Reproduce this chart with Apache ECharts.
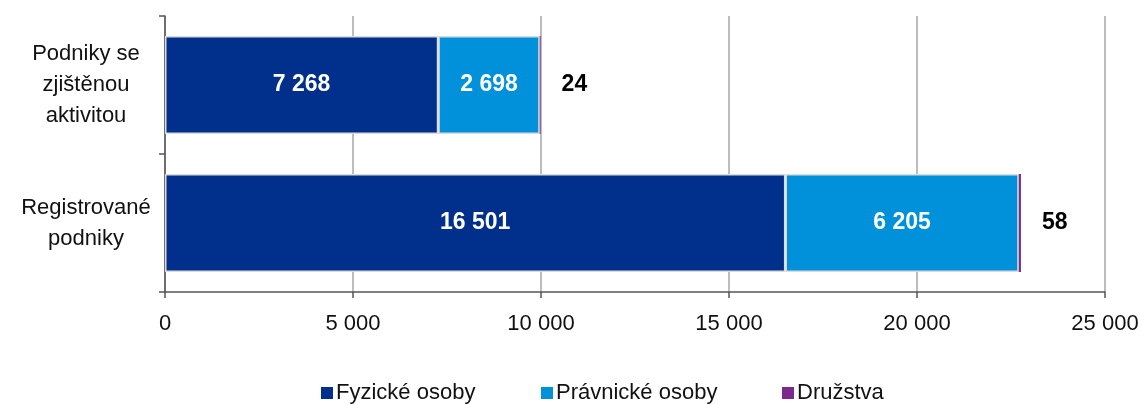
<!DOCTYPE html>
<html>
<head>
<meta charset="utf-8">
<script src="https://cdn.jsdelivr.net/npm/echarts@6/dist/echarts.min.js"></script>
<style>
  html, body { margin: 0; padding: 0; background: #fff; }
  #chart { width: 1144px; height: 404px; }
</style>
</head>
<body>
<div id="chart"></div>
<script>
// Categories, top to bottom
const categories = ['Podniky se\nzjištěnou\naktivitou', 'Registrované\npodniky'];
// Series values (same order as categories)
const fyzickeOsoby = [7268, 16501];
const pravnickeOsoby = [2698, 6205];
const druzstva = [24, 58];
const seriesNames = ['Fyzické osoby', 'Právnické osoby', 'Družstva'];
const xTicks = { min: 0, max: 25000, interval: 5000 };

const colors = ['#00308C', '#0091DA', '#7B2A8B'];
const sans = '"Liberation Sans", Arial, sans-serif';
const narrow = '"Liberation Sans Narrow", "Liberation Sans", Arial, sans-serif';

function fmt(v) {
  return String(v).replace(/\B(?=(\d{3})+(?!\d))/g, '\u00a0');
}

const chart = echarts.init(document.getElementById('chart'), null, { renderer: 'canvas' });

const barBorder = { borderColor: '#dcdcdc', borderWidth: 1.5 };

chart.setOption({
  animation: false,
  grid: { left: 165, right: 39, top: 16, bottom: 112, containLabel: false },
  xAxis: {
    type: 'value',
    min: xTicks.min, max: xTicks.max, interval: xTicks.interval,
    axisLine: { show: true, lineStyle: { color: '#555', width: 1.5 } },
    axisTick: { show: true, length: 6, lineStyle: { color: '#555', width: 1.5 } },
    splitLine: { show: true, lineStyle: { color: '#bdbdbd', width: 2 } },
    axisLabel: {
      margin: 21, color: '#111', fontFamily: sans, fontSize: 22,
      formatter: fmt
    }
  },
  yAxis: {
    type: 'category',
    inverse: true,
    data: categories,
    axisLine: { show: true, lineStyle: { color: '#555', width: 1.5 } },
    axisTick: { show: true, length: 6, inside: false, lineStyle: { color: '#555', width: 1.5 } },
    axisLabel: {
      margin: 79, align: 'center', color: '#111', fontFamily: sans, fontSize: 22, lineHeight: 31
    }
  },
  legend: [0, 1, 2].map((i) => ({
    data: [seriesNames[i]],
    left: [316, 536, 777][i],
    top: 377,
    icon: 'rect',
    itemWidth: 12, itemHeight: 12,
    itemStyle: { borderWidth: 0 },
    textStyle: { color: '#111', fontFamily: sans, fontSize: 22, padding: [0, 0, 0, -2] }
  })),
  series: [
    {
      name: seriesNames[0], type: 'bar', stack: 'total', barWidth: 98,
      data: fyzickeOsoby,
      itemStyle: Object.assign({ color: colors[0] }, barBorder),
      label: {
        show: true, position: 'inside', color: '#fff', fontWeight: 'bold',
        fontFamily: narrow, fontSize: 23,
        formatter: (p) => fmt(p.value)
      }
    },
    {
      name: seriesNames[1], type: 'bar', stack: 'total', barWidth: 98,
      data: pravnickeOsoby,
      itemStyle: Object.assign({ color: colors[1] }, barBorder),
      label: {
        show: true, position: 'inside', color: '#fff', fontWeight: 'bold',
        fontFamily: narrow, fontSize: 23,
        formatter: (p) => fmt(p.value)
      }
    },
    {
      name: seriesNames[2], type: 'bar', stack: 'total', barWidth: 98,
      data: druzstva,
      itemStyle: { color: colors[2] },
      label: {
        show: true, position: 'right', distance: 21, color: '#000', fontWeight: 'bold',
        fontFamily: narrow, fontSize: 23,
        formatter: (p) => fmt(p.value)
      }
    }
  ]
});
</script>
</body>
</html>
